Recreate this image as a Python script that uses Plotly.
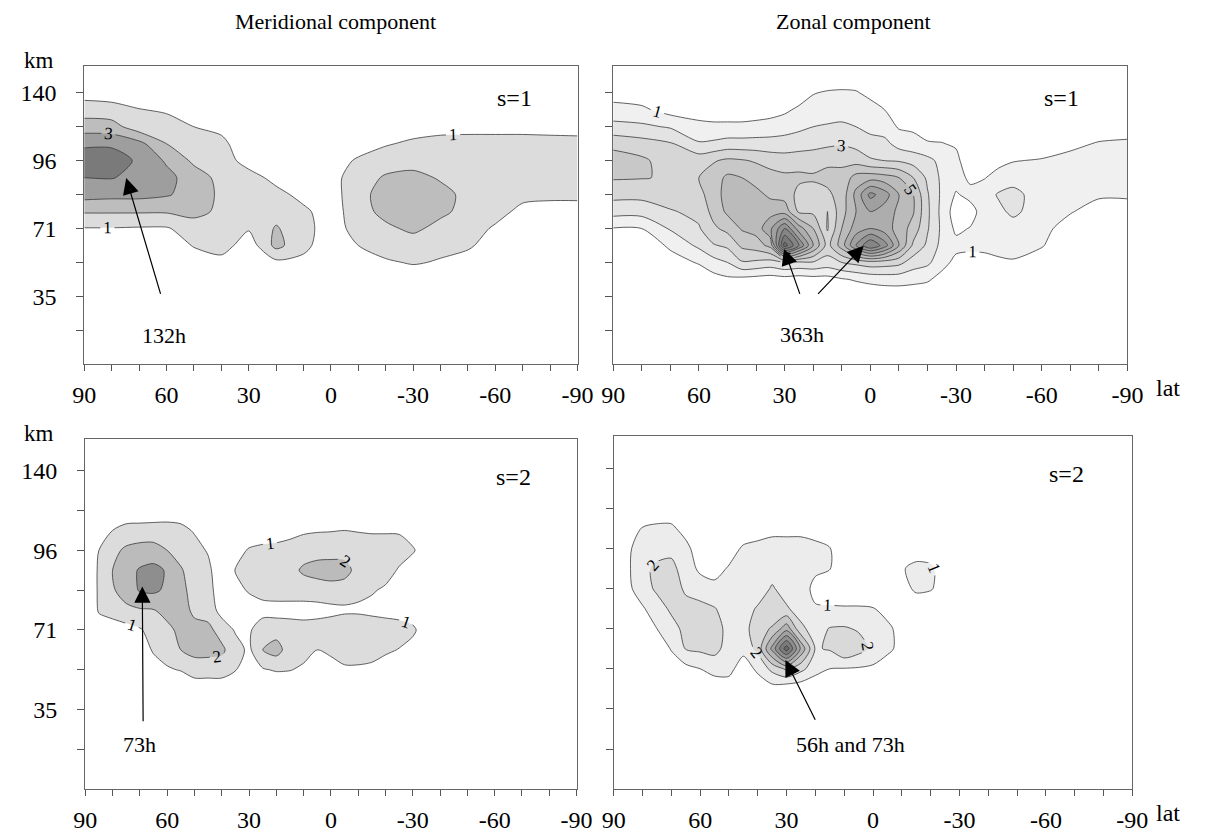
import numpy as np
import plotly.graph_objects as go

W, H = 1205, 833
FONT = "Liberation Serif"

# ---------------- data ----------------
# altitude axis is a level index: tick k -> label
level_ticks = [1, 2, 3, 4, 5, 6, 7, 8]
level_labels = ["", "35", "", "71", "", "96", "", "140"]
lat_ticks = list(range(90, -91, -10))

# Meridional component, s=1  (profiles over lev_s1, one per latitude)
lev_s1 = [2.0, 2.5, 3.0, 3.5, 4.0, 4.5, 5.0, 5.5, 6.0, 6.5, 7.0, 7.5, 8.0, 8.5]
merid_s1_lat = [90, 80, 70, 60, 50, 40, 30, 20, 10, 0, -10, -20, -30, -40, -50, -60, -70, -80, -90]
merid_s1_z = [
    [0, 0, 0, 0.2, 0.95, 2.1, 3.4, 4.0, 4.6, 3.8, 2.5, 1.5, 0.6, 0.2],
    [0, 0, 0, 0.2, 0.95, 2.1, 3.3, 4.05, 4.6, 3.8, 2.4, 1.4, 0.5, 0.1],
    [0, 0, 0, 0.1, 0.9, 2.1, 3.3, 3.7, 3.8, 3.3, 1.42, 1.05, 0.3, 0],
    [0, 0, 0, 0.1, 0.9, 2.1, 3.1, 3.3, 2.87, 2.0, 1.5, 0.85, 0.2, 0],
    [0, 0, 0.2, 1.1, 1.5, 2.3, 2.6, 2.5, 1.8, 1.5, 1.0, 0.4, 0, 0],
    [0, 0, 0.6, 1.5, 1.8, 1.8, 1.8, 1.7, 1.5, 1.3, 0.7, 0.2, 0, 0],
    [0, 0, 0, 0.4, 1.1, 1.5, 1.5, 1.4, 0.6, 0.2, 0, 0, 0, 0],
    [0, 0, 0.75, 2.3, 2.1, 1.6, 1.3, 0.7, 0.2, 0, 0, 0, 0, 0],
    [0, 0, 0.7, 1.3, 1.35, 1.2, 0.7, 0.2, 0, 0, 0, 0, 0, 0],
    [0, 0, 0, 0.3, 0.5, 0.5, 0.6, 0.6, 0.3, 0, 0, 0, 0, 0],
    [0, 0, 0.3, 1.0, 1.4, 1.6, 1.6, 1.6, 1.2, 0.3, 0, 0, 0, 0],
    [0, 0.2, 0.85, 1.5, 1.8, 2.3, 2.5, 2.1, 1.6, 0.9, 0.2, 0, 0, 0],
    [0, 0.3, 1.1, 1.5, 2.2, 2.5, 2.6, 2.3, 1.6, 1.2, 0.5, 0, 0, 0],
    [0, 0, 0.9, 1.3, 1.7, 2.2, 2.3, 1.9, 1.6, 1.3, 0.7, 0, 0, 0],
    [0, 0, 0.3, 1.25, 1.5, 1.7, 1.75, 1.6, 1.5, 1.3, 0.75, 0, 0, 0],
    [0, 0, 0, 0.2, 0.85, 1.4, 1.5, 1.5, 1.5, 1.3, 0.75, 0, 0, 0],
    [0, 0, 0, 0, 0.2, 0.7, 1.3, 1.5, 1.5, 1.3, 0.75, 0, 0, 0],
    [0, 0, 0, 0, 0.1, 0.55, 1.25, 1.5, 1.5, 1.3, 0.7, 0, 0, 0],
    [0, 0, 0, 0, 0.1, 0.55, 1.25, 1.5, 1.5, 1.3, 0.65, 0, 0, 0],
]

# Zonal component, s=1
zonal_s1_lat = [90, 80, 70, 60, 55, 50, 45, 40, 35, 30, 25, 20, 15, 10, 5, 0, -5, -10,
                -15, -20, -25, -30, -35, -40, -45, -50, -60, -70, -80, -90]
zonal_s1_z = [
    [0, 0, 0, 0.2, 0.95, 2.4, 3.3, 4.1, 4.5, 3.7, 2.3, 1.4, 0.5, 0],
    [0, 0, 0, 0.2, 1.0, 2.4, 3.3, 4.05, 4.2, 3.4, 2.2, 1.2, 0.4, 0],
    [0, 0, 0.5, 1.2, 2.1, 2.9, 3.6, 3.9, 3.5, 3.1, 1.9, 0.6, 0, 0],
    [0, 0.2, 1.1, 2.2, 2.9, 3.3, 3.7, 4.0, 3.6, 2.1, 1.3, 0.5, 0, 0],
    [0, 0.6, 1.6, 2.9, 3.8, 4.3, 4.5, 4.5, 3.9, 2.2, 1.2, 0.5, 0, 0],
    [0, 0.8, 2.0, 3.2, 4.3, 5.2, 5.4, 5.2, 4.2, 2.4, 1.2, 0.5, 0, 0],
    [0, 0.7, 2.9, 4.2, 5.1, 5.4, 5.5, 5.0, 4.1, 2.4, 1.2, 0.5, 0, 0],
    [0, 0.6, 2.8, 4.5, 5.4, 5.5, 5.3, 4.6, 3.9, 2.4, 1.3, 0.5, 0, 0],
    [0, 0.5, 2.6, 5.3, 6.8, 5.6, 4.8, 4.4, 3.6, 2.4, 1.4, 0.6, 0, 0],
    [0, 0.6, 3.0, 11.5, 9.0, 5.6, 4.6, 4.2, 3.5, 2.4, 1.6, 0.8, 0, 0],
    [0, 0.5, 2.8, 9.0, 6.5, 3.8, 3.7, 4.2, 3.6, 2.5, 1.8, 1.2, 0.4, 0],
    [0, 0.6, 2.9, 6.0, 5.0, 3.8, 3.7, 4.1, 3.7, 2.6, 2.0, 1.4, 0.95, 0.2],
    [0, 0.6, 2.6, 3.6, 2.9, 3.0, 3.8, 4.3, 3.8, 2.8, 2.1, 1.5, 1.1, 0.3],
    [0.1, 0.9, 3.0, 5.5, 5.0, 4.6, 4.4, 4.3, 3.8, 2.9, 2.2, 1.5, 1.15, 0.35],
    [0.2, 1.1, 3.3, 8.0, 6.5, 6.0, 6.3, 5.4, 3.6, 2.7, 2.0, 1.55, 1.1, 0.3],
    [0.2, 1.3, 3.6, 10.0, 7.0, 7.0, 8.3, 5.6, 3.1, 2.5, 1.6, 1.45, 0.7, 0.1],
    [0.3, 1.4, 3.5, 8.5, 6.5, 6.5, 7.5, 5.4, 3.0, 2.3, 1.5, 1.0, 0.3, 0],
    [0.35, 1.4, 3.3, 6.0, 5.6, 5.8, 6.0, 5.0, 2.9, 1.6, 0.9, 0.3, 0, 0],
    [0.3, 1.3, 2.5, 3.8, 4.6, 5.1, 5.0, 4.0, 2.6, 1.4, 0.8, 0.2, 0, 0],
    [0.2, 1.15, 2.2, 2.8, 3.1, 3.2, 3.1, 2.8, 2.3, 1.1, 0.5, 0, 0, 0],
    [0, 0.6, 1.4, 1.7, 1.8, 1.7, 1.8, 1.8, 1.7, 1.05, 0.4, 0, 0, 0],
    [0, 0, 0.7, 1.3, 0.8, 0.5, 0.9, 1.4, 1.35, 0.85, 0.2, 0, 0, 0],
    [0, 0, 0.5, 1.3, 1.05, 0.6, 1.3, 0.8, 0.1, 0, 0, 0, 0, 0],
    [0, 0, 0.6, 1.3, 1.4, 1.5, 1.6, 0.95, 0.3, 0, 0, 0, 0, 0],
    [0, 0, 0.8, 1.4, 1.5, 1.8, 2.1, 1.4, 0.7, 0, 0, 0, 0, 0],
    [0, 0, 0.9, 1.4, 1.6, 2.2, 2.3, 1.6, 0.95, 0.3, 0, 0, 0, 0],
    [0, 0, 0.3, 1.1, 1.4, 1.5, 1.5, 1.5, 1.1, 0.3, 0, 0, 0, 0],
    [0, 0, 0, 0, 0.4, 1.1, 1.4, 1.5, 1.4, 0.7, 0, 0, 0, 0],
    [0, 0, 0, 0, 0, 0.4, 1.2, 1.5, 1.5, 1.1, 0.3, 0, 0, 0],
    [0, 0, 0, 0, 0, 0.4, 1.2, 1.5, 1.5, 1.25, 0.3, 0, 0, 0],
]

# Meridional component, s=2
lev_s2 = [2.5, 3.0, 3.5, 4.0, 4.5, 5.0, 5.5, 6.0, 6.5, 7.0]
merid_s2_lat = [90, 85, 80, 75, 70, 65, 60, 55, 50, 45, 40, 35, 30, 25, 20, 15, 10, 5, 0,
                -5, -10, -15, -20, -25, -30, -35, -40]
merid_s2_z = [
    [0, 0, 0, 0, 0, 0, 0, 0, 0, 0],
    [0, 0, 0, 0.5, 1.1, 1.15, 1.15, 1.0, 0.3, 0],
    [0, 0, 0, 0.5, 1.4, 1.9, 2.0, 1.7, 1.0, 0.15],
    [0, 0, 0, 0.6, 1.8, 2.4, 2.6, 2.2, 1.3, 0.4],
    [0, 0, 0, 0.9, 1.9, 3.1, 3.1, 2.4, 1.35, 0.4],
    [0, 0.2, 1.2, 1.4, 1.95, 3.2, 3.3, 2.4, 1.4, 0.4],
    [0, 0.9, 1.4, 1.7, 2.4, 2.8, 2.9, 2.0, 1.4, 0.45],
    [0.2, 1.05, 2.0, 2.3, 2.4, 2.3, 2.1, 1.6, 1.3, 0.4],
    [0.3, 1.5, 2.3, 2.3, 1.8, 1.6, 1.5, 1.4, 0.9, 0.2],
    [0.3, 1.5, 2.3, 2.25, 1.6, 1.5, 1.3, 0.9, 0.2, 0],
    [0.3, 1.5, 2.2, 1.6, 0.6, 0.2, 0.1, 0, 0, 0],
    [0.2, 1.05, 1.4, 0.9, 0.3, 0.7, 1.05, 0.6, 0, 0],
    [0, 0.5, 0.8, 0.85, 0.5, 1.1, 1.5, 1.1, 0.3, 0],
    [0, 0.9, 2.0, 1.6, 0.6, 1.4, 1.6, 1.3, 0.3, 0],
    [0, 1.1, 2.4, 1.6, 0.6, 1.5, 1.6, 1.4, 0.35, 0],
    [0, 1.05, 1.5, 1.5, 0.6, 1.5, 1.7, 1.5, 0.6, 0],
    [0, 0.8, 1.4, 1.4, 0.6, 1.5, 2.15, 1.6, 0.85, 0],
    [0, 0.5, 1.0, 1.5, 0.6, 1.6, 2.3, 1.7, 0.92, 0.05],
    [0, 0.6, 1.2, 1.6, 0.7, 1.7, 2.35, 1.7, 0.95, 0.1],
    [0, 0.8, 1.6, 1.8, 0.8, 1.6, 2.3, 1.7, 1.0, 0.1],
    [0, 0.8, 1.6, 1.8, 0.8, 1.3, 1.7, 1.5, 0.95, 0.1],
    [0, 0.7, 1.5, 1.7, 0.7, 1.1, 1.6, 1.5, 0.9, 0.1],
    [0, 0.4, 1.2, 1.6, 0.6, 0.85, 1.4, 1.5, 0.9, 0.1],
    [0, 0.2, 0.95, 1.5, 0.5, 0.3, 0.9, 1.4, 0.9, 0.1],
    [0, 0, 0.6, 1.2, 0.4, 0.1, 0.5, 1.1, 0.6, 0],
    [0, 0, 0.2, 0.4, 0.2, 0, 0.2, 0.5, 0.2, 0],
    [0, 0, 0, 0, 0, 0, 0, 0, 0, 0],
]

# Zonal component, s=2
zonal_s2_lat = [90, 85, 80, 75, 70, 65, 60, 55, 50, 45, 40, 35, 30, 25, 20, 15, 10, 5, 0,
                -5, -10, -15, -20, -25, -30]
zonal_s2_z = [
    [0, 0, 0, 0, 0, 0, 0, 0, 0, 0],
    [0, 0, 0, 0, 0.6, 0.8, 0.85, 0.8, 0.5, 0],
    [0, 0, 0, 0.3, 0.9, 1.5, 1.75, 1.6, 1.05, 0.2],
    [0, 0, 0, 1.0, 1.5, 2.2, 2.2, 1.6, 1.2, 0.3],
    [0, 0.2, 1.1, 1.6, 2.2, 2.3, 2.3, 1.7, 1.2, 0.3],
    [0, 0.7, 2.05, 2.3, 2.2, 1.9, 1.5, 1.3, 0.6, 0],
    [0, 1.0, 2.2, 2.95, 2.3, 1.5, 0.8, 0.4, 0, 0],
    [0.3, 1.4, 2.3, 2.4, 2.05, 1.3, 0.6, 0.2, 0, 0],
    [0.5, 1.3, 1.6, 1.7, 1.6, 1.4, 1.1, 0.5, 0, 0],
    [0, 0.5, 1.3, 1.6, 1.6, 1.5, 1.4, 1.15, 0.3, 0],
    [0.4, 1.2, 2.3, 2.6, 2.1, 1.5, 1.4, 1.3, 0.5, 0],
    [0.6, 2.3, 5.3, 3.1, 2.3, 2.1, 1.6, 1.4, 0.7, 0],
    [0.3, 3.2, 8.6, 4.6, 2.1, 1.6, 1.5, 1.4, 0.7, 0],
    [0.3, 2.3, 4.8, 2.2, 1.6, 1.5, 1.5, 1.4, 0.7, 0],
    [0.2, 1.4, 1.9, 1.6, 1.1, 0.7, 1.2, 1.3, 0.5, 0],
    [0, 1.0, 2.1, 2.05, 1.1, 0.5, 1.05, 1.05, 0.2, 0],
    [0, 0.95, 2.9, 2.1, 1.1, 0.3, 0, 0, 0, 0],
    [0, 0.9, 2.4, 1.9, 1.1, 0.3, 0, 0, 0, 0],
    [0, 0.8, 1.8, 1.6, 1.05, 0.3, 0, 0, 0, 0],
    [0, 0.3, 1.3, 1.3, 0.5, 0, 0, 0, 0, 0],
    [0, 0, 0.6, 0.5, 0.2, 0.6, 0.9, 0.3, 0, 0],
    [0, 0, 0, 0, 0.3, 1.2, 1.3, 0.4, 0, 0],
    [0, 0, 0, 0, 0.2, 1.1, 1.15, 0.5, 0, 0],
    [0, 0, 0, 0, 0, 0.5, 0.6, 0.2, 0, 0],
    [0, 0, 0, 0, 0, 0, 0, 0, 0, 0],
]

# ---------------- styling ----------------
panels = [
    dict(lat=merid_s1_lat, lev=lev_s1, z=merid_s1_z, nlev=4,
         colors=["#ffffff", "#dcdcdc", "#bdbdbd", "#9e9e9e", "#7a7a7a"],
         labeled=[(1, 3, 2)], unlabeled=[(2, 4, 2)],
         xd=(74, 579), yd=(66, 366), ylab=True, s="s=1"),
    dict(lat=zonal_s1_lat, lev=lev_s1, z=zonal_s1_z, nlev=11,
         colors=["#ffffff", "#f0f0f0", "#e3e3e3", "#d6d6d6", "#c8c8c8", "#bbbbbb",
                 "#adadad", "#a0a0a0", "#929292", "#858585", "#787878", "#6b6b6b"],
         labeled=[(1, 5, 2)], unlabeled=[(2, 4, 2), (6, 11, 1)],
         xd=(615.5, 1142), yd=(66, 366), ylab=False, s="s=1"),
    dict(lat=merid_s2_lat, lev=lev_s2, z=merid_s2_z, nlev=3,
         colors=["#ffffff", "#dcdcdc", "#bbbbbb", "#8e8e8e"],
         labeled=[(1, 2, 1)], unlabeled=[(3, 3, 1)],
         xd=(75, 578), yd=(441, 793), ylab=True, s="s=2"),
    dict(lat=zonal_s2_lat, lev=lev_s2, z=zonal_s2_z, nlev=8,
         colors=["#ffffff", "#ececec", "#d9d9d9", "#c6c6c6", "#b3b3b3", "#a1a1a1",
                 "#8e8e8e", "#7b7b7b", "#686868"],
         labeled=[(1, 2, 1), (6, 6, 1)], unlabeled=[(3, 5, 1), (7, 8, 1)],
         xd=(616, 1147), yd=(438, 793), ylab=False, s="s=2"),
]

LINE_COLOR = "#3a3a3a"
fig = go.Figure()
layout = dict(width=W, height=H, autosize=False, margin=dict(l=0, r=0, t=0, b=0),
              paper_bgcolor="white", plot_bgcolor="white", showlegend=False,
              font=dict(family=FONT, size=22, color="black"))
annotations = []


def paper_text(cx, cy, text, size=24):
    return dict(x=cx / W, y=1 - cy / H, xref="paper", yref="paper", text=text,
                xanchor="center", yanchor="middle", showarrow=False,
                font=dict(family=FONT, size=size, color="black"))


for i, p in enumerate(panels, start=1):
    xa, ya = f"x{i}", f"y{i}"
    zz = np.array(p["z"], dtype=float).T  # rows = levels, cols = latitudes
    n = p["nlev"]
    cs = [[k / n, c] for k, c in enumerate(p["colors"])]
    fig.add_trace(go.Contour(
        x=p["lat"], y=p["lev"], z=zz, xaxis=xa, yaxis=ya,
        autocontour=False,
        contours=dict(start=1, end=n, size=1, coloring="fill", showlines=False),
        colorscale=cs, showscale=False, line=dict(width=0, smoothing=0.8),
        hoverinfo="skip"))
    for (a, b, s) in p["unlabeled"]:
        fig.add_trace(go.Contour(
            x=p["lat"], y=p["lev"], z=zz, xaxis=xa, yaxis=ya, autocontour=False,
            contours=dict(start=a, end=b, size=s, coloring="none", showlines=True),
            line=dict(color=LINE_COLOR, width=0.8, smoothing=0.8),
            showscale=False, hoverinfo="skip"))
    for (a, b, s) in p["labeled"]:
        fig.add_trace(go.Contour(
            x=p["lat"], y=p["lev"], z=zz, xaxis=xa, yaxis=ya, autocontour=False,
            contours=dict(start=a, end=b, size=s, coloring="none", showlines=True,
                          showlabels=True,
                          labelfont=dict(family=FONT, size=17, color="black")),
            line=dict(color=LINE_COLOR, width=0.8, smoothing=0.8),
            showscale=False, hoverinfo="skip"))

    x0, x1 = p["xd"]
    ytop, ybot = p["yd"]
    layout[f"xaxis{i}"] = dict(
        domain=[x0 / W, x1 / W], anchor=ya, range=[90, -90],
        tickvals=lat_ticks, ticktext=[str(v) if v % 30 == 0 else "" for v in lat_ticks],
        ticks="outside", ticklen=6, tickwidth=1, tickcolor="#555",
        showline=True, linecolor="#666", linewidth=1.2, mirror=True,
        showgrid=False, zeroline=False, ticklabelstandoff=3,
        tickfont=dict(family=FONT, size=24, color="black"), fixedrange=True)
    layout[f"yaxis{i}"] = dict(
        domain=[1 - ybot / H, 1 - ytop / H], anchor=xa, range=[0, 8.8],
        tickvals=level_ticks, ticktext=level_labels if p["ylab"] else [""] * 8,
        ticks="outside", ticklen=7, tickwidth=1, tickcolor="#555",
        showline=True, linecolor="#666", linewidth=1.2, mirror=True,
        showgrid=False, zeroline=False, ticklabelstandoff=15,
        tickfont=dict(family=FONT, size=24, color="black"), fixedrange=True)
    layout[f"yaxis{i + 4}"] = dict(
        overlaying=ya, side="right", anchor=xa, range=[0, 8.8],
        tickvals=level_ticks, showticklabels=False, ticks="outside", ticklen=4,
        tickcolor="#555", showline=False, showgrid=False, zeroline=False,
        fixedrange=True)
    # s label
    annotations.append(dict(x=-67, y=7.85, xref=xa, yref=ya, text=p["s"],
                            xanchor="center", yanchor="middle", showarrow=False,
                            font=dict(family=FONT, size=24, color="black")))
    if p["ylab"]:
        annotations.append(paper_text(28, ytop - 5, "km", 23))
    else:
        annotations.append(paper_text(1183, ybot + 24, "lat", 24))

# titles
annotations.append(paper_text(331, 22, "Meridional component", 22))
annotations.append(paper_text(862, 22, "Zonal component", 22))

# arrows (tip, tail) and period labels
arrows = [
    (1, (74.7, 5.49), (62.0, 2.03)),
    (2, (30.2, 3.40), (24.5, 2.03)),
    (2, (2.3, 3.49), (18.8, 2.03)),
    (3, (69.1, 5.09), (68.8, 1.67)),
    (4, (30.4, 3.22), (19.8, 1.69)),
]
for i, tip, tail in arrows:
    annotations.append(dict(x=tip[0], y=tip[1], ax=tail[0], ay=tail[1],
                            xref=f"x{i}", yref=f"y{i}", axref=f"x{i}", ayref=f"y{i}",
                            text="", showarrow=True, arrowhead=2, arrowsize=2.7,
                            arrowwidth=1.2, arrowcolor="black"))
period_labels = [
    (1, 61.0, 0.86, "132h"),
    (2, 24.0, 0.88, "363h"),
    (3, 70.0, 1.13, "73h"),
    (4, 7.8, 1.12, "56h and 73h"),
]
for i, x, y, t in period_labels:
    annotations.append(dict(x=x, y=y, xref=f"x{i}", yref=f"y{i}", text=t,
                            xanchor="center", yanchor="middle", showarrow=False,
                            font=dict(family=FONT, size=22, color="black")))

layout["annotations"] = annotations
fig.update_layout(**layout)
fig.write_html("out.html")
